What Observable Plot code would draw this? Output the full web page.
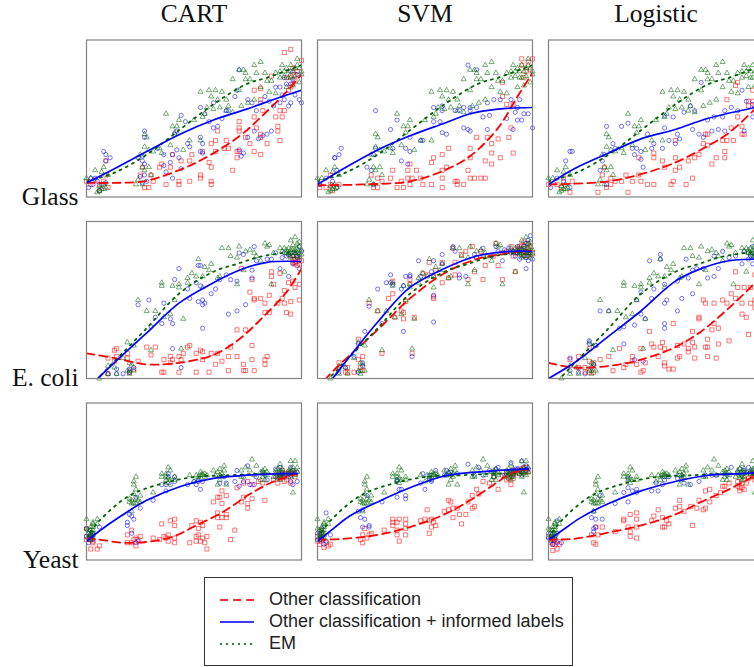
<!DOCTYPE html>
<html><head><meta charset="utf-8">
<script src="https://cdn.jsdelivr.net/npm/d3@7"></script>
<script src="https://cdn.jsdelivr.net/npm/@observablehq/plot@0.6"></script>
<style>
html,body{margin:0;padding:0;background:#fff;overflow:hidden;width:754px;height:667px}
#chart{position:absolute;left:0;top:0}
#legend{position:absolute;left:204px;top:576.5px;width:367px;height:87px;border:1px solid #333;background:#fff;font:18px "Liberation Sans",sans-serif;color:#222}
#legend div{position:absolute;left:15px;height:22px;line-height:22px;white-space:nowrap}
#legend svg{vertical-align:middle;margin-right:15px}
</style></head><body><div id="chart"></div><div id="legend"></div>
<script>
const methods=["CART","SVM","Logistic"];
const datasets=["Glass","E. coli","Yeast"];
const legendLabels=["Other classification","Other classification + informed labels","EM"];

// EM results do not depend on the other classifier: one list per data set
const glassEm=[[0,12],[2,12],[4,17],[8,19],[7,16],[10,14],[6,4],[9,6],[5,3],[8,5],[26,19],[29,19],[24,11],[27,17],[30,14],[23,8],[26,8],[27,32],[25,27],[28,38],[27,40],[29,30],[31,29],[35,28],[34,31],[39,33],[37,53],[40,45],[42,45],[43,49],[41,41],[45,30],[50,49],[48,36],[53,67],[53,36],[54,51],[56,57],[57,68],[60,68],[58,64],[59,56],[63,67],[61,62],[65,62],[65,55],[68,54],[68,75],[71,81],[73,81],[74,79],[71,68],[74,75],[76,75],[78,84],[81,86],[83,79],[79,79],[78,62],[81,70],[85,67],[88,79],[91,84],[95,84],[98,88],[98,84],[90,76],[93,70],[96,71],[99,73],[88,66],[92,80],[86,74],[84,74],[94,76],[100,80],[97,77],[62,57],[55,53],[66,58],[75,60],[72,58],[93,82],[96,80],[97,82],[99,82],[100,78],[94,80],[95,76],[92,77],[90,80],[6,7],[7,5],[8,8]];
const ecoliEm=[[24,50],[28,43],[32,43],[35,59],[35,61],[40,59],[43,60],[43,58],[41,50],[36,39],[39,41],[45,38],[47,64],[47,61],[49,67],[51,65],[54,65],[52,76],[55,71],[58,73],[57,69],[54,58],[61,64],[62,65],[63,83],[66,83],[67,78],[70,77],[71,84],[70,60],[73,69],[78,80],[74,81],[76,82],[83,86],[85,85],[79,78],[81,75],[84,84],[90,83],[86,60],[87,80],[92,68],[94,83],[95,88],[97,90],[98,86],[96,82],[99,84],[98,80],[93,80],[91,81],[96,78],[99,77],[19,23],[22,21],[30,18],[44,19],[17,13],[21,9],[20,10],[20,5],[10,8],[13,7],[14,3],[6,0],[10,3],[20,3],[19,5],[22,5],[92,83],[93,82],[94,80],[95,82],[96,85],[97,82],[97,80],[98,78],[99,80],[100,82],[100,79],[95,77],[94,79],[96,80],[98,83],[99,87]];
const yeastEm=[[0,26],[3,23],[5,26],[2,21],[1,17],[3,19],[2,15],[3,14],[0,20],[2,13],[5,23],[3,24],[23,53],[22,50],[22,48],[23,45],[25,41],[23,39],[20,37],[22,36],[23,36],[21,31],[25,37],[31,43],[38,59],[39,57],[37,55],[35,55],[35,53],[38,49],[41,51],[41,53],[37,51],[53,56],[54,55],[51,54],[54,54],[56,54],[48,54],[50,50],[52,51],[55,53],[64,60],[62,58],[59,57],[63,55],[60,54],[62,51],[65,48],[61,48],[64,57],[77,64],[74,59],[72,57],[76,57],[72,53],[78,54],[73,53],[79,60],[82,57],[84,56],[82,53],[81,51],[83,51],[90,61],[88,57],[90,57],[89,54],[91,53],[90,51],[87,53],[95,63],[97,63],[96,59],[98,59],[94,57],[97,56],[95,53],[96,43],[88,55],[89,58],[90,55],[91,56],[92,55],[89,52],[90,53],[91,58],[94,55],[95,56],[96,55],[97,54],[98,56],[95,58],[82,55],[83,55],[81,56],[84,54],[83,58],[53,54],[52,53],[55,55],[62,54],[63,53],[61,56],[38,52],[39,51],[37,53],[1,15],[2,17],[3,16],[1,19],[2,19],[3,17],[1,14],[3,21],[22,42],[21,38],[24,38],[21,36],[20,39]];

const glassCartBlue=[[8,29],[9,27],[11,25],[9,23],[4,12],[1,6],[3,8],[7,8],[9,9],[6,4],[2,12],[5,10],[27,42],[27,38],[24,25],[26,23],[27,21],[26,26],[27,14],[25,13],[28,10],[26,9],[33,31],[36,27],[40,27],[39,22],[43,25],[44,18],[37,16],[40,12],[36,20],[42,30],[44,52],[46,48],[41,40],[42,42],[47,34],[48,32],[53,57],[55,53],[53,38],[54,34],[54,28],[53,29],[59,60],[57,48],[59,44],[61,45],[63,50],[66,55],[65,55],[69,64],[70,68],[71,81],[72,26],[71,30],[73,28],[75,62],[77,60],[79,55],[81,60],[83,64],[85,61],[87,58],[88,70],[90,70],[91,65],[92,62],[94,58],[95,60],[97,65],[99,62],[100,60],[93,72],[95,72],[90,60],[86,42],[84,40],[82,39],[75,38],[78,42],[80,37],[92,76],[95,80],[96,75],[98,78]];
const glassCartRed=[[92,92],[95,94],[100,87],[86,77],[95,77],[90,55],[92,55],[88,51],[91,51],[89,45],[89,42],[90,36],[97,78],[81,69],[81,62],[78,68],[82,55],[78,51],[79,44],[81,40],[81,38],[84,34],[78,29],[81,27],[76,34],[71,48],[71,44],[71,42],[74,38],[70,29],[71,29],[70,25],[68,17],[65,36],[66,31],[64,31],[61,42],[60,36],[60,29],[58,34],[57,22],[58,19],[53,12],[53,14],[58,10],[58,8],[54,29],[49,27],[48,23],[48,10],[43,10],[43,8],[37,8],[44,23],[40,27],[39,19],[35,21],[34,19],[31,10],[29,6],[27,6],[30,14],[26,19],[25,14],[9,23],[9,14],[10,6],[6,4],[2,8],[4,11],[8,10],[0,10],[6,8],[96,82],[98,80],[95,70],[93,76],[97,74],[96,72],[94,68]];
const glassSvmBlue=[[27,55],[11,31],[10,27],[8,25],[8,25],[9,17],[4,12],[1,8],[7,10],[9,6],[27,31],[26,27],[23,19],[25,17],[26,8],[34,43],[37,49],[35,31],[41,31],[43,29],[39,23],[42,21],[43,38],[49,36],[48,36],[54,48],[58,41],[60,40],[58,55],[58,58],[54,57],[57,48],[64,55],[66,55],[68,57],[71,57],[71,55],[70,84],[74,81],[74,57],[68,44],[70,43],[71,42],[79,60],[79,43],[77,51],[80,52],[82,62],[85,62],[90,62],[93,49],[95,49],[93,57],[96,53],[98,53],[100,44],[92,54],[88,50],[91,43],[94,62]];
const glassSvmRed=[[95,88],[99,81],[95,84],[86,73],[96,76],[86,64],[88,59],[91,59],[90,44],[89,38],[91,28],[85,25],[81,34],[84,37],[79,38],[81,28],[78,23],[81,21],[74,38],[71,31],[71,25],[70,17],[71,12],[73,12],[76,12],[78,12],[61,31],[58,27],[54,25],[53,22],[60,19],[58,17],[58,12],[58,6],[53,8],[49,8],[48,12],[64,10],[65,10],[68,8],[65,8],[43,21],[46,17],[42,17],[42,12],[44,12],[43,8],[40,6],[37,6],[39,10],[35,17],[34,12],[28,6],[26,6],[30,10],[25,14],[28,12],[6,14],[10,8],[1,6],[4,6],[7,4],[1,8],[6,8],[98,86],[97,80],[100,88]];
const glassLogBlue=[[71,73],[10,29],[11,29],[8,23],[4,12],[1,6],[7,10],[10,6],[27,45],[31,31],[30,34],[26,27],[25,23],[24,17],[27,8],[34,45],[37,47],[39,31],[41,31],[40,27],[43,29],[43,24],[44,19],[46,40],[49,34],[48,31],[53,31],[54,52],[58,51],[54,44],[56,36],[59,34],[60,40],[61,37],[63,54],[66,58],[68,55],[67,43],[70,40],[72,38],[74,49],[77,51],[81,51],[82,55],[85,57],[88,55],[90,68],[76,42],[82,42],[79,43],[91,42],[95,51],[97,57],[92,61],[95,59],[99,55]];
const glassLogRed=[[87,71],[88,73],[95,68],[98,63],[93,61],[95,61],[93,58],[96,58],[83,62],[88,51],[90,45],[91,40],[90,40],[85,44],[86,36],[83,36],[81,36],[82,29],[82,25],[78,25],[76,21],[73,40],[74,40],[74,33],[72,34],[70,27],[68,25],[65,23],[67,12],[64,8],[59,25],[59,36],[53,23],[54,19],[59,17],[61,19],[58,10],[57,8],[49,28],[49,25],[42,25],[49,8],[46,8],[42,14],[43,10],[39,10],[36,14],[37,3],[34,10],[31,10],[29,12],[25,14],[23,3],[27,6],[29,8],[11,10],[6,6],[10,3],[4,8],[0,8],[7,12],[26,19]];

const ecoliCartBlue=[[43,70],[41,63],[52,72],[53,72],[51,61],[53,59],[47,57],[48,51],[29,50],[24,47],[36,48],[32,39],[35,35],[39,38],[40,35],[30,33],[54,32],[54,50],[55,48],[54,47],[52,49],[58,54],[60,57],[62,63],[65,66],[67,63],[70,62],[66,41],[70,43],[74,47],[71,80],[73,79],[78,84],[77,69],[77,64],[79,75],[84,76],[86,76],[90,70],[94,65],[96,73],[99,70],[99,84],[93,78],[91,77],[40,19],[44,7],[17,3],[14,3],[10,3],[20,4],[22,7],[20,6],[14,6],[92,80],[94,79],[95,80],[96,78],[97,80],[98,77],[99,79],[100,81],[88,80]];
const ecoliCartRed=[[14,19],[13,18],[14,14],[10,13],[19,16],[19,13],[24,11],[22,6],[20,4],[10,3],[13,11],[28,20],[32,20],[30,15],[36,12],[35,4],[36,4],[39,14],[43,14],[40,12],[39,10],[43,4],[44,12],[47,20],[48,21],[45,16],[51,16],[53,18],[54,17],[54,12],[51,4],[57,4],[58,16],[60,9],[63,11],[61,16],[66,14],[67,20],[70,14],[66,5],[70,31],[74,31],[73,9],[74,5],[73,5],[78,5],[77,12],[77,21],[83,12],[84,14],[83,9],[76,55],[78,50],[78,51],[81,51],[83,48],[85,53],[83,42],[85,42],[91,51],[89,48],[92,48],[95,49],[99,50],[93,42],[95,41],[97,58],[99,60],[96,62],[92,56],[94,61],[86,65],[86,68],[90,67],[97,73],[99,75],[98,72],[72,70],[77,63],[87,60],[95,78],[96,76],[97,76],[98,76],[99,73],[98,78],[97,74],[100,75],[96,74]];
const ecoliSvmBlue=[[47,75],[54,75],[58,79],[58,73],[34,66],[34,61],[32,61],[28,57],[39,57],[41,65],[43,66],[43,65],[24,46],[35,60],[40,59],[40,30],[54,36],[30,35],[22,30],[19,22],[17,14],[44,14],[21,10],[21,8],[19,4],[10,4],[13,7],[54,53],[48,65],[53,68],[63,84],[64,81],[66,66],[66,64],[69,65],[73,79],[77,83],[77,78],[83,84],[86,75],[90,80],[93,84],[94,80],[97,70],[99,91],[98,75],[96,84],[98,80],[97,77],[74,77],[81,78],[84,81],[92,78],[87,82],[95,82],[94,76],[93,80],[96,78],[99,80],[100,76],[97,86],[98,88],[89,83],[91,81]];
const ecoliSvmRed=[[24,48],[28,43],[35,62],[43,63],[43,60],[35,54],[33,51],[40,42],[39,43],[40,38],[36,39],[45,39],[41,49],[19,25],[30,16],[44,16],[21,14],[19,12],[21,5],[20,7],[17,4],[13,4],[10,10],[14,7],[14,4],[52,74],[49,67],[51,66],[54,65],[54,52],[54,51],[58,74],[55,69],[58,61],[61,64],[63,83],[67,79],[69,81],[64,74],[64,66],[70,63],[73,68],[72,84],[76,81],[78,72],[77,63],[83,86],[86,63],[84,72],[90,84],[92,68],[96,87],[98,83],[99,79],[94,82],[92,80],[97,78],[82,78],[79,78],[74,77],[93,83],[94,84],[95,85],[97,81],[98,86],[99,84],[100,80],[95,79],[96,81],[91,78],[88,81],[86,80]];
const ecoliLogBlue=[[47,75],[52,79],[52,76],[24,43],[28,43],[43,55],[41,50],[49,57],[48,51],[54,60],[55,50],[54,48],[43,41],[40,34],[35,33],[33,32],[45,38],[54,35],[54,32],[60,43],[62,51],[35,22],[19,24],[19,22],[22,21],[10,13],[10,5],[14,4],[17,3],[20,7],[21,9],[40,12],[44,11],[60,62],[64,76],[65,64],[67,54],[67,69],[69,70],[72,70],[74,64],[77,65],[79,70],[77,78],[81,81],[84,77],[87,78],[90,73],[93,76],[95,84],[95,73],[91,81],[98,80],[94,78],[96,80],[97,76],[99,78],[100,77],[93,80],[95,78]];
const ecoliLogRed=[[10,12],[14,14],[19,19],[19,11],[21,10],[17,7],[24,12],[21,4],[19,4],[14,7],[17,4],[28,14],[30,5],[33,19],[35,7],[36,9],[39,14],[39,11],[43,19],[43,4],[44,5],[41,9],[45,10],[47,30],[48,22],[49,20],[52,20],[53,23],[54,19],[54,10],[54,8],[56,6],[58,6],[51,14],[58,35],[60,21],[61,14],[60,13],[63,22],[65,19],[65,17],[67,23],[68,20],[68,13],[67,30],[70,39],[70,38],[73,20],[74,20],[74,14],[74,25],[76,31],[78,13],[79,22],[77,35],[79,32],[84,24],[93,28],[72,50],[73,48],[77,48],[81,50],[83,48],[85,54],[87,51],[90,48],[90,41],[92,39],[94,48],[96,45],[96,50],[88,58],[91,58],[94,58],[87,68],[96,66],[98,72],[99,68],[97,73]];

const yeastCartBlue=[[0,20],[2,16],[6,21],[3,13],[1,13],[19,24],[19,22],[22,26],[21,28],[20,29],[25,33],[23,40],[21,17],[24,12],[23,11],[35,48],[37,48],[38,53],[37,44],[41,53],[41,50],[31,38],[47,48],[53,45],[51,48],[52,51],[50,50],[62,49],[65,49],[64,53],[69,50],[70,57],[71,47],[73,50],[75,60],[76,48],[78,48],[79,53],[84,51],[90,59],[95,50],[96,48],[95,59],[98,50],[88,53],[92,53],[90,53],[91,55],[93,54],[94,55],[95,54],[96,57],[98,56],[88,58],[82,56],[83,54],[0,15],[1,17],[2,14],[3,17],[1,11],[3,16],[38,55],[39,48],[52,50],[54,50]];
const yeastCartRed=[[0,20],[0,15],[2,13],[2,7],[5,7],[6,9],[3,11],[0,13],[3,12],[19,16],[19,11],[21,19],[21,11],[23,14],[25,15],[23,9],[24,13],[22,13],[31,14],[35,23],[34,13],[36,15],[38,16],[39,25],[41,26],[41,22],[37,14],[38,12],[41,14],[41,11],[48,11],[49,22],[51,25],[53,24],[52,20],[54,22],[51,15],[52,16],[54,14],[56,15],[51,12],[53,12],[55,11],[56,7],[59,37],[61,40],[62,40],[63,44],[65,41],[63,36],[61,30],[65,29],[61,27],[63,27],[65,27],[62,21],[69,19],[67,13],[70,46],[72,37],[73,40],[75,36],[75,33],[77,39],[77,48],[73,49],[75,50],[83,38],[80,50],[82,49],[87,51],[89,49],[92,50],[95,49],[97,53],[90,55],[94,53],[90,52],[91,53],[92,54],[93,55],[94,56],[95,55],[96,56],[97,55],[89,53],[91,57],[93,51]];
const yeastSvmBlue=[[4,30],[0,17],[1,13],[3,10],[6,16],[4,12],[23,41],[21,32],[19,31],[20,27],[22,26],[21,21],[24,22],[24,21],[30,37],[37,51],[37,50],[38,45],[37,40],[41,41],[41,39],[39,45],[49,55],[48,49],[50,45],[55,57],[53,51],[52,54],[59,54],[62,56],[60,57],[65,55],[70,61],[73,54],[75,59],[77,54],[80,57],[82,53],[84,59],[90,62],[87,54],[91,57],[95,63],[97,60],[97,57],[95,54],[89,55],[90,57],[91,54],[92,58],[93,58],[94,57],[96,58],[98,58],[0,13],[2,14],[2,20],[1,16],[82,56],[83,58],[60,54],[61,55],[52,52],[53,50]];
const yeastSvmRed=[[0,15],[2,13],[4,11],[6,10],[1,10],[21,16],[22,20],[25,17],[20,13],[21,11],[23,14],[24,16],[31,19],[35,24],[35,26],[38,26],[41,26],[37,24],[35,22],[41,23],[41,20],[37,19],[37,16],[41,16],[38,12],[48,25],[51,32],[50,26],[52,25],[53,26],[54,24],[55,22],[53,21],[52,17],[59,31],[61,38],[62,37],[63,33],[65,33],[61,32],[63,27],[66,29],[69,29],[67,23],[70,37],[72,33],[73,34],[72,41],[75,42],[77,50],[74,45],[80,49],[82,53],[84,45],[86,54],[90,48],[91,55],[94,58],[96,56],[97,59],[88,51],[89,52],[90,53],[91,52],[92,57],[93,56],[94,55],[95,57],[96,59],[97,57],[98,56],[88,56],[0,12],[1,12],[3,8],[5,9],[2,17],[1,18]];
const yeastLogBlue=[[4,25],[0,17],[2,10],[6,11],[4,11],[21,20],[21,18],[22,21],[21,31],[20,27],[25,26],[22,26],[24,41],[31,36],[35,43],[37,46],[37,52],[41,45],[41,43],[39,44],[37,37],[48,44],[51,44],[50,49],[54,51],[56,53],[61,54],[63,49],[66,48],[70,50],[73,54],[76,54],[78,54],[85,59],[83,54],[88,56],[90,54],[95,57],[93,59],[2,14],[1,12],[3,15],[0,14],[4,17],[89,58],[91,57],[92,56],[94,56],[96,55],[97,56],[99,55],[100,57],[62,52],[60,52],[54,53],[53,48]];
const yeastLogRed=[[0,15],[1,11],[2,6],[4,7],[4,12],[3,10],[20,16],[22,21],[25,21],[21,11],[22,10],[23,16],[31,18],[35,26],[38,29],[41,30],[35,25],[41,26],[37,21],[38,18],[41,21],[38,15],[41,14],[49,28],[51,32],[48,25],[53,27],[55,25],[56,23],[53,21],[54,21],[61,38],[61,34],[59,33],[63,31],[66,34],[69,33],[67,22],[70,38],[72,32],[73,33],[73,44],[75,45],[78,41],[75,37],[80,43],[81,47],[82,47],[84,49],[90,49],[91,51],[89,44],[91,45],[95,53],[96,51],[99,48],[88,47],[89,46],[90,46],[92,49],[93,52],[94,55],[96,55],[97,58],[98,52],[88,50],[2,10],[1,13],[3,13],[5,10]];

// fitted trend lines, read as knots
const glassEmLine=[[0,10],[13,15.5],[28,27],[43.5,43],[59,59],[74.5,72],[84,76],[100,84]];
const ecoliEmLine=[[0,-8],[6,1],[13,11],[28,32],[43,54],[59,68],[70,73],[82,78],[100,81]];
const yeastEmLine=[[0,14],[6,25],[20,41],[36,49],[51,53],[67,54],[82,55],[96,55]];
const glassCartBlueLine=[[0,9],[13,18],[28,29],[43.5,40],[59,49],[74.5,56],[90,63.5],[100,68]];
const glassCartRedLine=[[0,9],[13,9],[26.6,10],[40,15.5],[54,24],[71.4,39],[82,52],[93,67],[100,78]];
const glassSvmBlueLine=[[0,8],[12,18],[28,30],[43,39],[59,47],[71,53],[84,56],[100,57]];
const glassSvmRedLine=[[0,7.5],[21,8],[43,10],[59,17],[71,26],[84,44],[93,64],[100,79]];
const glassLogBlueLine=[[0,8],[12,18],[28,28],[43,37],[59,43],[74,50],[96,57],[100,58]];
const glassLogRedLine=[[0,8],[12,8.5],[28,10],[43,14.5],[59,22],[74,32.5],[84,41],[96,56],[100,62]];
const ecoliCartBlueLine=[[0,-8],[6,1],[16,14],[28,29],[43,48],[59,61],[71,69],[84,74],[100,74.5]];
const ecoliCartRedLine=[[0,16],[13,13],[28,9],[43,10],[59,15],[71,25],[82,39],[93,55],[100,70]];
const ecoliSvmBlueLine=[[5,-3],[7,0],[15,14],[28,36],[43,58],[59,70],[74,78],[90,81],[100,81]];
const ecoliSvmRedLine=[[0,-8],[4,0],[12,11],[28,31],[43,51],[59,67],[74,76],[90,80],[100,81.5]];
const ecoliLogBlueLine=[[0,0],[12,10],[28,27],[43,43],[59,62],[71,70],[84,75],[96,76],[100,76]];
const ecoliLogRedLine=[[0,10],[12,7],[28,8],[43,12],[59,20],[71,30],[84,45],[96,61],[100,68]];
const yeastCartBlueLine=[[0,12],[6,18.5],[16,28],[28,38],[44,47],[59,52],[74.5,54],[90,55],[98,55]];
const yeastCartRedLine=[[0,14],[6,13],[17,11],[28,11.5],[40.5,15],[51,22],[64,31],[76,42],[87,50],[98,55]];
const yeastSvmBlueLine=[[0,12],[6,18.5],[15,28],[28,37],[43,46],[59,53.5],[74,56],[90,57.5],[98,58]];
const yeastSvmRedLine=[[0,13],[12,13.5],[28,16],[43,21],[59,29],[71,38],[82,48],[90,55],[98,58]];
const yeastLogBlueLine=[[0,13],[6,18.5],[15,27],[28,36],[43,44],[59,50],[74,54],[90,55],[100,56]];
const yeastLogRedLine=[[0,13],[12,13.5],[28,17.5],[43,22],[59,29],[71,37],[84,45],[96,53.5],[100,55]];

const em={"Glass":[glassEm,glassEmLine],"E. coli":[ecoliEm,ecoliEmLine],"Yeast":[yeastEm,yeastEmLine]};
const panels=[
 ["CART","Glass",glassCartRed,glassCartBlue,glassCartRedLine,glassCartBlueLine],
 ["SVM","Glass",glassSvmRed,glassSvmBlue,glassSvmRedLine,glassSvmBlueLine],
 ["Logistic","Glass",glassLogRed,glassLogBlue,glassLogRedLine,glassLogBlueLine],
 ["CART","E. coli",ecoliCartRed,ecoliCartBlue,ecoliCartRedLine,ecoliCartBlueLine],
 ["SVM","E. coli",ecoliSvmRed,ecoliSvmBlue,ecoliSvmRedLine,ecoliSvmBlueLine],
 ["Logistic","E. coli",ecoliLogRed,ecoliLogBlue,ecoliLogRedLine,ecoliLogBlueLine],
 ["CART","Yeast",yeastCartRed,yeastCartBlue,yeastCartRedLine,yeastCartBlueLine],
 ["SVM","Yeast",yeastSvmRed,yeastSvmBlue,yeastSvmRedLine,yeastSvmBlueLine],
 ["Logistic","Yeast",yeastLogRed,yeastLogBlue,yeastLogRedLine,yeastLogBlueLine]
];
const table=(arr,m,d)=>arr.map(([x,y])=>({x,y,m,d}));
const gather=i=>panels.flatMap(p=>table(p[i],p[0],p[1]));
const emGather=i=>panels.flatMap(p=>table(em[p[1]][i],p[0],p[1]));

const RED="#ff0000",BLUE="#0000ff",GREEN="#006400";
const dots=(data,symbol,stroke,r)=>Plot.dot(data,{x:"x",y:"y",fx:"m",fy:"d",symbol,stroke,fill:"none",r,strokeWidth:.9,strokeOpacity:.6});
const line=(data,stroke,strokeDasharray,strokeWidth)=>Plot.line(data,{x:"x",y:"y",fx:"m",fy:"d",stroke,strokeDasharray,strokeWidth,curve:"catmull-rom",clip:"frame"});

const chart=Plot.plot({
  width:763,height:562,
  marginLeft:86,marginRight:0,marginTop:39.5,marginBottom:2.5,
  style:{maxWidth:"none",background:"#fff",overflow:"visible"},
  x:{domain:[0,100],axis:null},
  y:{domain:[0,100],axis:null},
  fx:{domain:methods,paddingInner:16/231,paddingOuter:0,round:false,axis:null,label:null},
  fy:{domain:datasets,paddingInner:24.5/181.5,paddingOuter:0,round:false,axis:null,label:null},
  marks:[
    dots(gather(2),"square",RED,2.3),
    dots(gather(3),"circle",BLUE,2.1),
    dots(emGather(0),"triangle",GREEN,1.9),
    line(gather(4),RED,"8,5",1.8),
    line(emGather(1),GREEN,"2,5",1.8),
    line(gather(5),BLUE,null,1.7),
    Plot.frame({stroke:"#808080",strokeWidth:1.2}),
    Plot.axisFx({anchor:"top",label:null,tickSize:0,tickPadding:18,fontSize:25.5,fontFamily:"Liberation Serif",fill:"#111"}),
    Plot.axisFy({anchor:"left",label:null,tickSize:0,tickPadding:8,dy:78,fontSize:25.5,fontFamily:"Liberation Serif",fill:"#111"})
  ]
});
document.getElementById("chart").appendChild(chart);

const sample=[["#ff3030","8,5",1.8],["#3a3aff",null,2],["#2a8a2a","2,4",1.8]];
const lg=document.getElementById("legend");
legendLabels.forEach((t,i)=>{
  const d=document.createElement("div");
  d.style.top=(10.5+22*i)+"px";
  const [c,dash,w]=sample[i];
  d.innerHTML=`<svg width="34" height="6"><line x1="0" x2="34" y1="3" y2="3" stroke="${c}" stroke-width="${w}" ${dash?`stroke-dasharray="${dash}"`:""}/></svg>`;
  d.appendChild(document.createTextNode(t));
  lg.appendChild(d);
});
</script></body></html>
